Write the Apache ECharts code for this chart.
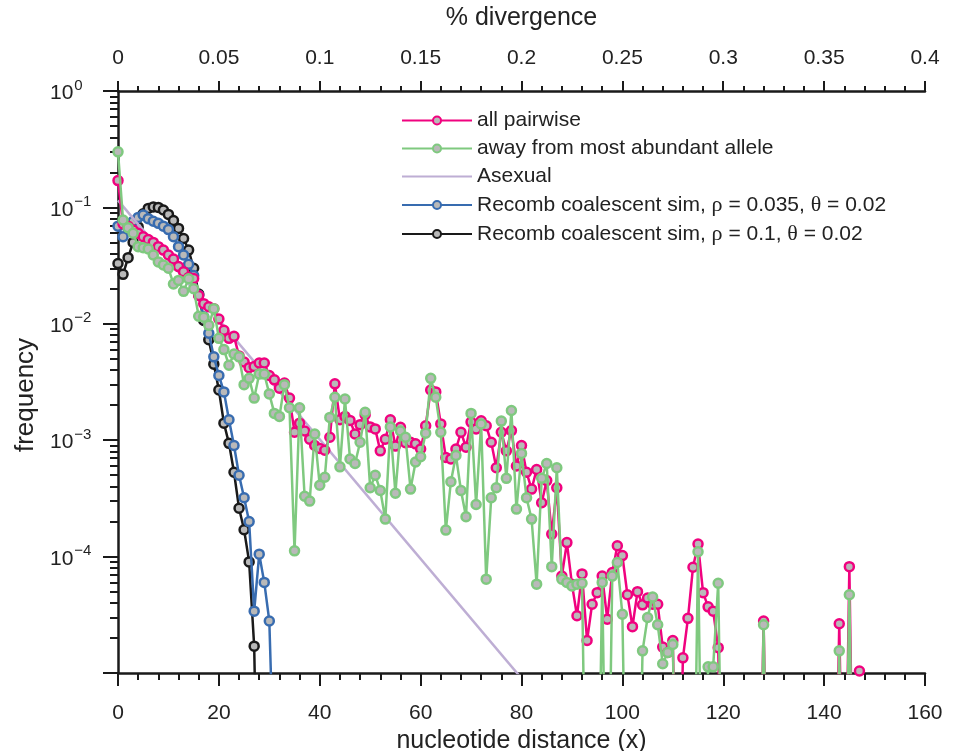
<!DOCTYPE html>
<html>
<head>
<meta charset="utf-8">
<script src="https://cdn.jsdelivr.net/npm/echarts@6/dist/echarts.min.js"></script>
<style>
  html, body { margin: 0; padding: 0; background: #fff; }
  #chart { width: 953px; height: 751px; }
</style>
</head>
<body>
<div id="chart"></div>
<script>
// Frequency of each pairwise nucleotide distance (index = distance x).
// Values of 1e-7 sit below the plotted range, so their segments run off the bottom.
const allPairwise = [
  0.17, 0.072, 0.069, 0.064, 0.06, 0.056, 0.053, 0.05, 0.046, 0.043,
  0.039, 0.036, 0.031, 0.028, 0.025, 0.0245, 0.0175, 0.0149, 0.014, 0.0135,
  0.011, 0.0088, 0.0075, 0.0078, 0.0053, 0.0047, 0.0042, 0.0043, 0.0046, 0.0046,
  0.0036, 0.0033, 0.0028, 0.0031, 0.0023, 0.00117, 0.0014, 0.0012, 0.00102, 0.0009,
  0.00085, 0.00082, 0.00106, 0.00305, 0.0015, 0.0016, 0.00148, 0.00113, 0.00136, 0.00165,
  0.0013, 0.00125, 0.00081, 0.00102, 0.0015, 0.00089, 0.00129, 0.00095, 0.00096, 0.00093,
  0.00084, 0.00133, 0.0027, 0.0026, 0.00138, 0.00071, 0.00069, 0.00084, 0.00117, 0.00087,
  0.00143, 0.00125, 0.00147, 0.00133, 0.00096, 0.00058, 0.00117, 0.00081, 0.00121, 0.0006,
  0.0009, 0.00053, 0.00038, 0.00056, 0.00029, 0.00045, 0.000156, 0.00039, 0.000068, 0.000132,
  0.000058, 0.000031, 0.000071, 0.000019, 0.000039, 0.000049, 0.000068, 0.000029, 0.000073, 0.000124,
  0.000102, 0.000047, 0.000025, 0.00005, 0.0000385, 0.000044, 0.000039, 0.000039, 0.0000167, 0.000015,
  0.000019, 1e-7, 0.0000135, 0.0000295, 0.000081, 0.000128, 0.000049, 0.000037, 0.000034, 0.0000165,
  1e-7, 1e-7, 1e-7, 1e-7, 1e-7, 1e-7, 1e-7, 1e-7, 0.000028, 1e-7,
  1e-7, 1e-7, 1e-7, 1e-7, 1e-7, 1e-7, 1e-7, 1e-7, 1e-7, 1e-7,
  1e-7, 1e-7, 1e-7, 0.0000265, 1e-7, 0.000082, 1e-7, 0.0000104
];

const awayFromAbundant = [
  0.30, 0.078, 0.067, 0.06, 0.046, 0.045, 0.044, 0.039, 0.034, 0.032,
  0.030, 0.022, 0.0236, 0.019, 0.0244, 0.020, 0.0116, 0.0114, 0.0097, 0.0135,
  0.0075, 0.006, 0.0044, 0.0055, 0.0052, 0.0030, 0.0034, 0.0023, 0.0037, 0.0037,
  0.0025, 0.0017, 0.0016, 0.003, 0.0019, 0.000112, 0.0019, 0.00033, 0.0003, 0.00113,
  0.00041, 0.00048, 0.00157, 0.00234, 0.00059, 0.00226, 0.00069, 0.00063, 0.00096, 0.00174,
  0.00039, 0.0005, 0.00037, 0.00021, 0.0013, 0.00035, 0.0012, 0.00106, 0.00038, 0.00065,
  0.00072, 0.00115, 0.0034, 0.00234, 0.00117, 0.000169, 0.00044, 0.00074, 0.00037, 0.00022,
  0.0017, 0.00028, 0.00138, 0.000064, 0.00032, 0.00039, 0.00146, 0.00047, 0.0018, 0.000256,
  0.00077, 0.00032, 0.00021, 0.000058, 0.00047, 0.00063, 0.000082, 0.00058, 0.000064, 0.00006,
  0.000056, 0.000058, 0.000059, 1e-7, 1e-7, 1e-7, 0.00006, 1e-7, 0.000068, 0.000089,
  0.000032, 1e-7, 1e-7, 1e-7, 0.0000155, 0.00003, 0.000045, 0.000026, 0.000012, 0.000015,
  0.0000176, 1e-7, 1e-7, 1e-7, 1e-7, 0.00011, 1e-7, 0.0000113, 0.0000113, 0.000059,
  1e-7, 1e-7, 1e-7, 1e-7, 1e-7, 1e-7, 1e-7, 1e-7, 0.000026, 1e-7,
  1e-7, 1e-7, 1e-7, 1e-7, 1e-7, 1e-7, 1e-7, 1e-7, 1e-7, 1e-7,
  1e-7, 1e-7, 1e-7, 0.0000155, 1e-7, 0.000047, 1e-7
];

// Asexual expectation: straight in log space, given by its end points [x, frequency].
const asexual = [[0, 0.115], [80, 0.000009]];

// Recombining coalescent simulations, theta = 0.02.
const simRho035 = [
  0.069, 0.056, 0.066, 0.076, 0.082, 0.086, 0.08, 0.076, 0.073, 0.069,
  0.0645, 0.056, 0.046, 0.039, 0.0324, 0.026, 0.0176, 0.0115, 0.0083, 0.0052,
  0.0036, 0.0026, 0.0015, 0.0009, 0.0005, 0.00032, 0.0002, 0.000034, 0.000105, 0.00006,
  0.000028, 1e-6
];
const simRho01 = [
  0.033, 0.0266, 0.037, 0.05, 0.068, 0.088, 0.098, 0.101, 0.1, 0.095,
  0.087, 0.077, 0.066, 0.054, 0.043, 0.03, 0.018, 0.0107, 0.0073, 0.0045,
  0.0027, 0.0014, 0.00094, 0.00053, 0.00026, 0.00017, 0.00009, 0.000017, 1e-7
];

// Axis tick values
const yMajorTicks = [1e-5, 1e-4, 1e-3, 1e-2, 1e-1, 1];
const yLabelTicks = [1e-4, 1e-3, 1e-2, 1e-1, 1];
const yMinorTicks = [
  2e-5, 3e-5, 4e-5, 5e-5, 6e-5, 7e-5, 8e-5, 9e-5,
  2e-4, 3e-4, 4e-4, 5e-4, 6e-4, 7e-4, 8e-4, 9e-4,
  2e-3, 3e-3, 4e-3, 5e-3, 6e-3, 7e-3, 8e-3, 9e-3,
  2e-2, 3e-2, 4e-2, 5e-2, 6e-2, 7e-2, 8e-2, 9e-2,
  0.2, 0.3, 0.4, 0.5, 0.6, 0.7, 0.8, 0.9
];

const NAME_ALL = 'all pairwise';
const NAME_AWAY = 'away from most abundant allele';
const NAME_ASEX = 'Asexual';
const NAME_R035 = 'Recomb coalescent sim, ρ = 0.035, θ = 0.02';
const NAME_R01 = 'Recomb coalescent sim, ρ = 0.1, θ = 0.02';

const FONT = 'Liberation Sans, Arial, Helvetica, sans-serif';
const INK = '#1a1a1a';
const TEXT = '#222222';
const MARKER_FILL = '#b9b9b9';

function markerLine(name, values, color, z) {
  return {
    name: name,
    type: 'line',
    data: values.map(function (v, i) { return [i, v]; }),
    symbol: 'circle',
    symbolSize: 9,
    showSymbol: true,
    clip: true,
    z: z,
    lineStyle: { color: color, width: 2.5 },
    itemStyle: { color: MARKER_FILL, borderColor: color, borderWidth: 2.5 },
    emphasis: { disabled: true }
  };
}

const axisLine = { show: true, onZero: false, lineStyle: { color: INK, width: 2.5 } };

const chart = echarts.init(document.getElementById('chart'), null, { renderer: 'canvas' });

chart.setOption({
  animation: false,
  backgroundColor: '#ffffff',
  textStyle: { fontFamily: FONT },
  grid: { left: 118, right: 28, top: 91, bottom: 78, containLabel: false, outerBoundsMode: 'none' },
  legend: {
    orient: 'vertical',
    left: 401,
    top: 110,
    padding: 0,
    itemWidth: 70,
    itemHeight: 10,
    itemGap: 7,
    selectedMode: false,
    data: [
      NAME_ALL,
      NAME_AWAY,
      { name: NAME_ASEX, itemStyle: { opacity: 0 } },
      NAME_R035,
      NAME_R01
    ],
    formatter: function (name) {
      return name.replace('ρ', '{g|ρ}').replace('θ', '{g|θ}');
    },
    textStyle: {
      fontFamily: FONT, fontSize: 21, color: TEXT, lineHeight: 20,
      rich: { g: { fontFamily: 'Liberation Serif, DejaVu Serif, serif', fontSize: 22, color: TEXT, lineHeight: 20 } }
    }
  },
  xAxis: [
    {
      type: 'value', position: 'bottom', min: 0, max: 160, interval: 20,
      axisLine: axisLine,
      axisTick: { show: true, inside: false, length: 13, lineStyle: { color: INK, width: 2 } },
      minorTick: { show: true, splitNumber: 5, length: 7, lineStyle: { color: INK, width: 2 } },
      splitLine: { show: false },
      axisLabel: { fontSize: 21, color: TEXT, margin: 30, fontFamily: FONT },
      name: 'nucleotide distance (x)', nameLocation: 'middle', nameGap: 48,
      nameTextStyle: { fontSize: 25, color: TEXT, fontFamily: FONT }
    },
    {
      type: 'value', position: 'top', min: 0, max: 0.4, interval: 0.05,
      axisLine: axisLine,
      axisTick: { show: true, inside: false, length: 10, lineStyle: { color: INK, width: 2 } },
      minorTick: { show: true, splitNumber: 5, length: 5, lineStyle: { color: INK, width: 2 } },
      splitLine: { show: false },
      axisLabel: { fontSize: 21, color: TEXT, margin: 22, fontFamily: FONT },
      name: '% divergence', nameLocation: 'middle', nameGap: 60,
      nameTextStyle: { fontSize: 25, color: TEXT, fontFamily: FONT }
    }
  ],
  yAxis: [
    {
      type: 'log', logBase: 10, min: 1e-5, max: 1, position: 'left',
      axisLine: axisLine,
      axisTick: { show: true, inside: false, length: 15, customValues: yMajorTicks,
                  lineStyle: { color: INK, width: 2 } },
      splitLine: { show: false },
      minorTick: { show: false },
      axisLabel: {
        customValues: yLabelTicks,
        align: 'left', margin: 68, color: TEXT,
        formatter: function (v) {
          const e = Math.round(Math.log10(v));
          return '{b|10}{s|' + (e === 0 ? '0' : '\u2212' + (-e)) + '}';
        },
        rich: {
          b: { fontSize: 21, fontFamily: FONT, color: TEXT, lineHeight: 26, verticalAlign: 'bottom' },
          s: { fontSize: 15, fontFamily: FONT, color: TEXT, verticalAlign: 'top', padding: [0, 0, 0, 1] }
        }
      },
      name: 'frequency', nameLocation: 'middle', nameGap: 70,
      nameTextStyle: { fontSize: 26, color: TEXT, fontFamily: FONT, padding: [0, 26, 0, 0] }
    },
    {
      type: 'log', logBase: 10, min: 1e-5, max: 1, position: 'left',
      axisLine: { show: false },
      axisTick: { show: true, inside: false, length: 8, customValues: yMinorTicks,
                  lineStyle: { color: INK, width: 2 } },
      axisLabel: { show: false },
      splitLine: { show: false }
    }
  ],
  series: [
    markerLine(NAME_R01, simRho01, '#1a1a1a', 2),
    markerLine(NAME_R035, simRho035, '#386cb0', 3),
    {
      name: NAME_ASEX, type: 'line', data: asexual, symbol: 'none', z: 4, clip: true,
      lineStyle: { color: '#beaed4', width: 2.5 }, itemStyle: { color: '#beaed4' },
      emphasis: { disabled: true }
    },
    markerLine(NAME_ALL, allPairwise, '#f0027f', 5),
    markerLine(NAME_AWAY, awayFromAbundant, '#7fc97f', 6)
  ]
});
</script>
</body>
</html>
